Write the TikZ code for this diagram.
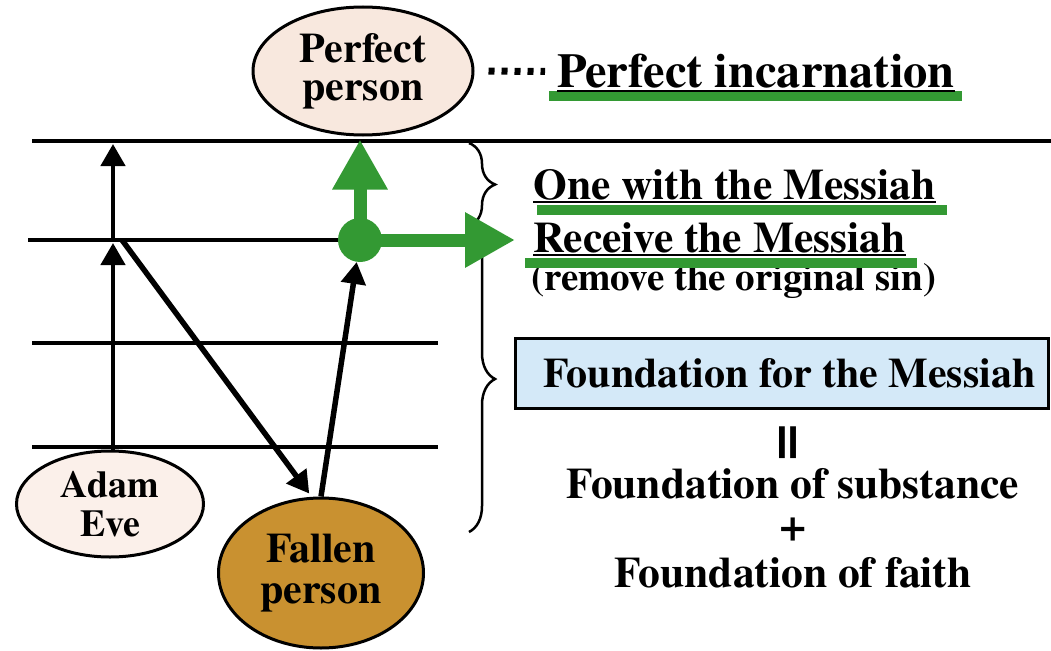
\documentclass[tikz,border=0pt]{standalone}
\usepackage{fontspec}
\setmainfont{texgyretermes}[Extension=.otf, UprightFont=*-regular, BoldFont=*-bold]
\usepackage{graphicx}
\usetikzlibrary{arrows.meta,shapes.geometric,decorations.pathreplacing,calc}

\definecolor{hlgreen}{RGB}{51,153,51}
\definecolor{perfectfill}{RGB}{248,232,222}
\definecolor{adamfill}{RGB}{251,240,234}
\definecolor{fallenfill}{RGB}{201,145,48}
\definecolor{boxfill}{RGB}{212,233,248}

\begin{document}
\begin{tikzpicture}[x=1pt, y=1pt,
    rung/.style={line width=3.5pt},
    arr/.style={line width=4.5pt, -{Triangle[length=22pt,width=24pt]}},
    person/.style={ellipse, draw, line width=3pt, inner sep=0pt, align=center},
    msg/.style={font=\bfseries\fontsize{43.5}{48}\selectfont, inner sep=0pt, anchor=base west},
    uline/.style={line width=2pt},
    hl/.style={hlgreen, line width=10pt},
    garr/.style={hlgreen, line width=13pt, -{Triangle[length=50pt,width=52pt]}},
    curly/.style={line width=2.5pt, decorate, decoration={brace, amplitude=26pt}}
]
    \useasboundingbox (0,0) rectangle (1051,-650);

    % Draw the levels
    \draw[rung] (32,-141) -- (1051,-141);
    \draw[rung] (28,-240) -- (360,-240);
    \draw[rung] (32,-343) -- (438,-343);
    \draw[rung] (32,-447) -- (438,-447);
    \coordinate (ae1) at (113,-240);
    \coordinate (ae2) at (113,-141);

    % Persons
    \node[person, fill=perfectfill, minimum width=220pt, minimum height=128pt,
          font=\bfseries\fontsize{42}{38}\selectfont] (perf) at (363,-71) {Perfect\\person};
    \node[person, fill=adamfill, minimum width=187pt, minimum height=106pt,
          font=\bfseries\fontsize{38}{39}\selectfont] (adam) at (110,-504) {Adam\\Eve};
    \node[person, fill=fallenfill, minimum width=205pt, minimum height=150pt,
          font=\bfseries\fontsize{42}{41}\selectfont] (fallen) at (321,-573) {Fallen\\person};
    \node[circle, fill=hlgreen, minimum size=44pt, inner sep=0pt] (dot) at (360,-240) {};

    % Texts on the right
    \node[msg, font=\bfseries\fontsize{48.5}{52}\selectfont] (incarn) at (557,-88) {Perfect incarnation};
    \node[msg] (one) at (533,-199) {One with the Messiah};
    \node[msg] (receive) at (533,-252) {Receive the Messiah};
    \node[msg, font=\bfseries\fontsize{39}{42}\selectfont] (remove) at (531,-290) {(remove the original sin)};

    % Underlines
    \draw[hl] (549,-96.5) -- (962,-96.5);
    \draw[hl] (537,-209.5) -- (947,-209.5);
    \draw[hl] (525,-262.5) -- (917,-262.5);
    \draw[uline] ([yshift=-3pt]incarn.base west) -- ([yshift=-3pt]incarn.base east);
    \draw[uline] ([yshift=-3pt]one.base west) -- ([yshift=-3pt]one.base east);
    \draw[uline] ([yshift=-3pt]receive.base west) -- ([yshift=-3pt]receive.base east);

    % Dots to the incarnation
    \draw[line width=7pt, dash pattern=on 6pt off 7pt, shorten <=14pt, shorten >=12pt] (perf.east) -- (incarn.west);

    % Braces
    \draw[curly] (469,-143) -- (469,-226);
    \draw[curly] (469,-226) -- (469,-532);

    % Foundation
    \node[draw, line width=3pt, fill=boxfill, minimum width=533pt, minimum height=70pt, inner sep=0pt,
          font=\bfseries\fontsize{42}{46}\selectfont] (fmessiah) at (781.5,-373) {\hspace*{16pt}Foundation for the Messiah};
    \node[inner sep=0pt, font=\bfseries\fontsize{44}{48}\selectfont] (equiv) at (792,-443) {\scalebox{1.5}{\rotatebox{90}{=}}};
    \node[msg, anchor=base] (subst) at (793,-498) {Foundation of substance};
    \node[inner sep=0pt, font=\bfseries\fontsize{48}{52}\selectfont] (plus) at (793,-530) {+};
    \node[msg, anchor=base] (faith) at (793,-587) {Foundation of faith};

    % Black arrows
    \draw[arr] (adam.north -| ae1) -- ([yshift=-3pt]ae1);
    \draw[arr] (ae1) -- ([yshift=-3pt]ae2);
    \draw[arr, line width=5.5pt, shorten >=4pt] ([xshift=9pt]ae1) -- (fallen.97);
    \draw[arr, line width=5.5pt] (fallen.north) -- (dot);

    % Green arrows
    \draw[garr] (dot.center) -- ($(dot |- perf.south)+(0,-3)$);
    \draw[garr, shorten >=18pt] (dot.center) -- (dot -| receive.west);
\end{tikzpicture}
\end{document}
